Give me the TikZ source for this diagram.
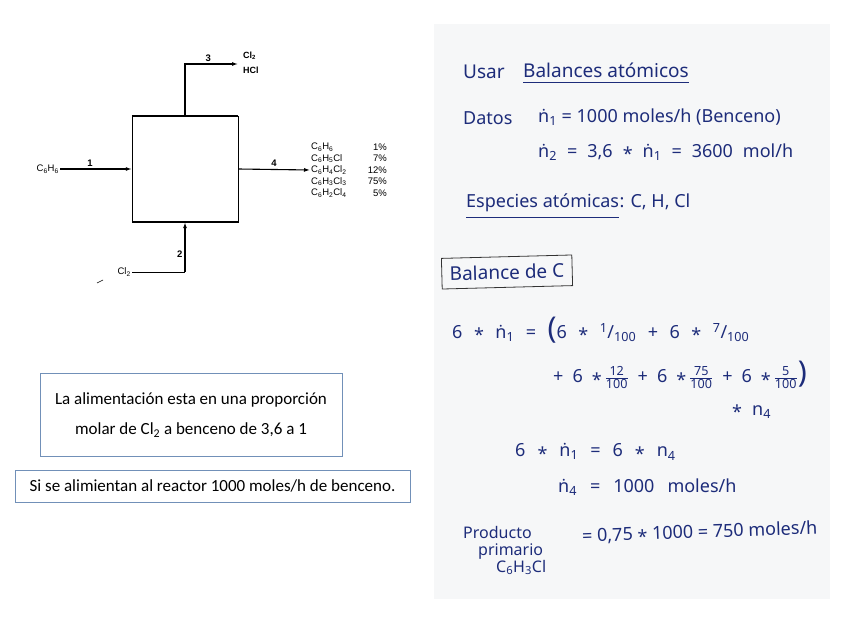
\documentclass[tikz,border=0pt]{standalone}
\usepackage{amsmath}
\usepackage{fontspec}
\usepackage{tikz}
\usetikzlibrary{arrows.meta, positioning, calc}
\newfontfamily\diagfont{Liberation Sans}
\newfontfamily\boxfont{Carlito}
\newfontfamily\handfont{Noto Sans}
\definecolor{boxblue}{HTML}{7190B8}
\definecolor{ink}{HTML}{1D2C7A}
\definecolor{paper}{HTML}{F6F7F8}
\newcommand{\tms}{\raisebox{-0.35ex}{*}}
\newcommand{\ndot}{ṅ}
\newcommand{\hfr}[2]{$\genfrac{}{}{0.7pt}{}{\text{#1}}{\text{#2}}$}
\newcommand{\sfr}[2]{\textsuperscript{#1}/\textsubscript{#2}}
\newcommand{\bigp}[1]{{\fontsize{30}{30}\selectfont #1}}

\begin{document}
\begin{tikzpicture}[x=1pt, y=-1pt,
  stream/.style={line width=1.1pt, -{Latex[length=6pt,width=4pt]}},
  lbl/.style={font=\diagfont\fontsize{9.5}{10}\selectfont, inner sep=1pt},
  num/.style={font=\diagfont\bfseries\fontsize{9.5}{10}\selectfont, inner sep=2pt},
  note/.style={draw=boxblue, line width=0.8pt, font=\boxfont\fontsize{17}{30}\selectfont, align=center},
  hand/.style={font=\handfont\fontsize{18}{22}\selectfont, text=ink, anchor=west, inner sep=0pt},
  spaced/.style={execute at begin node={\spaceskip=#1\relax}}]
  \fill[white] (0,0) rectangle (848,636);
  \useasboundingbox (0,0) rectangle (848,636);
  \fill[paper] (434,24) rectangle (830,599);

  % reactor and streams
  \node[draw, line width=0.5pt, minimum width=106pt, minimum height=106pt, inner sep=0pt] (reactor) at (185,169) {};
  \draw[line width=1.6pt] (reactor.north west) -- (reactor.north east);
  \draw[line width=1.6pt] (reactor.south west) -- (reactor.south east);

  \node[lbl, anchor=east] (feed1) at (60,169) {C\textsubscript{6}H\textsubscript{6}};
  \draw[stream] (feed1) -- (reactor.west) node[num, pos=0.42, above] {1};

  \coordinate (top3) at (238,64);
  \draw[stream] (reactor.north) |- (top3) node[num, pos=0.72, above] {3};
  \node[lbl, font=\diagfont\bfseries\fontsize{9}{10}\selectfont, anchor=west] (cl2out) at (242,56) {Cl\textsubscript{2}};
  \node[lbl, font=\diagfont\bfseries\fontsize{9}{10}\selectfont, anchor=west] (hcl) at (242,70) {HCl};

  \foreach \sp/\pc [count=\i] in {C\textsubscript{6}H\textsubscript{6}/1\%,
      C\textsubscript{6}H\textsubscript{5}Cl/7\%,
      C\textsubscript{6}H\textsubscript{4}Cl\textsubscript{2}/12\%,
      C\textsubscript{6}H\textsubscript{3}Cl\textsubscript{3}/75\%,
      C\textsubscript{6}H\textsubscript{2}Cl\textsubscript{4}/5\%}{
    \node[lbl, anchor=west] (p\i) at (310,{147+(\i-1)*11.5}) {\sp};
    \node[lbl, anchor=east] (pc\i) at (388,{147+(\i-1)*11.5}) {\pc};
  }
  \draw[stream] (reactor.east) -- (p3.west) node[num, midway, above] {4};

  \node[lbl, anchor=east] (feed2) at (132,272) {Cl\textsubscript{2}};
  \coordinate (corner2) at (feed2.east -| reactor.south);
  \draw[line width=0.6pt] (feed2.east) -- (corner2);
  \draw[stream] (corner2) -- (reactor.south) node[num, pos=0.35, left] {2};
  \draw[line width=0.6pt] (97,283) -- (103,280);

  % text boxes
  \node[note, minimum width=302pt, minimum height=83pt] (ratio) at (191,415)
    {La alimentación esta en una proporción\\molar de Cl\textsubscript{2} a benceno de 3,6 a 1};
  \node[note, minimum width=395pt, minimum height=32pt] (feedrate) at (212.5,486)
    {Si se alimientan al reactor 1000 moles/h de benceno.};

  % hand notes
  \node[hand, font=\handfont\fontsize{19}{22}\selectfont] (usar) at (463,72) {Usar};
  \node[hand, font=\handfont\fontsize{19}{22}\selectfont] (bal) at (523,70) {Balances atómicos};
  \draw[ink, line width=0.9pt] ([yshift=-5pt]bal.south west) -- ([yshift=-5pt]bal.south east);
  \node[hand] (datos) at (463,118) {Datos};
  \node[hand] (n1) at (538,117) {\ndot\textsubscript{1} = 1000 moles/h (Benceno)};
  \node[hand, spaced=10pt] (n2) at (538,152) {\ndot\textsubscript{2} = 3,6 \tms\ \ndot\textsubscript{1} = 3600 mol/h};
  \node[hand] (esp) at (466,203) {Especies atómicas};
  \node[hand, anchor=base west] (atoms) at (esp.base east) {: C, H, Cl};
  \draw[ink, line width=0.9pt] ([yshift=-5pt]esp.south west) -- ([yshift=-5pt]esp.south east);

  \node[hand, anchor=center, draw=black!80, line width=0.8pt, inner sep=8pt, rotate=1.5,
    font=\handfont\fontsize{19}{22}\selectfont] (balc) at (507,272) {Balance de C};

  \node[hand, spaced=11.5pt] (eq1) at (452,330) {6 \tms\ \ndot\textsubscript{1} = \bigp{(}6 \tms\ \sfr{1}{100} + 6 \tms\ \sfr{7}{100}};
  \node[hand, spaced=9pt] (eq2) at (553,375) {+ 6 \tms\,\hfr{12}{100} + 6 \tms\,\hfr{75}{100} + 6 \tms\,\hfr{5}{100}\bigp{)}};
  \node[hand, spaced=10pt] (eq3) at (732,412) {\tms\ n\textsubscript{4}};
  \node[hand, spaced=12pt] (eq4) at (515,452) {6 \tms\ \ndot\textsubscript{1} = 6 \tms\ n\textsubscript{4}};
  \node[hand, spaced=13pt] (eq5) at (558,487) {\ndot\textsubscript{4} = 1000 moles/h};
  \node[hand, anchor=north west, align=left, font=\handfont\fontsize{16}{17}\selectfont] (prod) at (463,526)
    {Producto\\\hspace*{15pt}primario\\\hspace*{33pt}C\textsubscript{6}H\textsubscript{3}Cl};
  \node[hand, rotate=2] (eq6) at (582,537) {= 0,75 \tms\ 1000 = 750 moles/h};
\end{tikzpicture}
\end{document}
